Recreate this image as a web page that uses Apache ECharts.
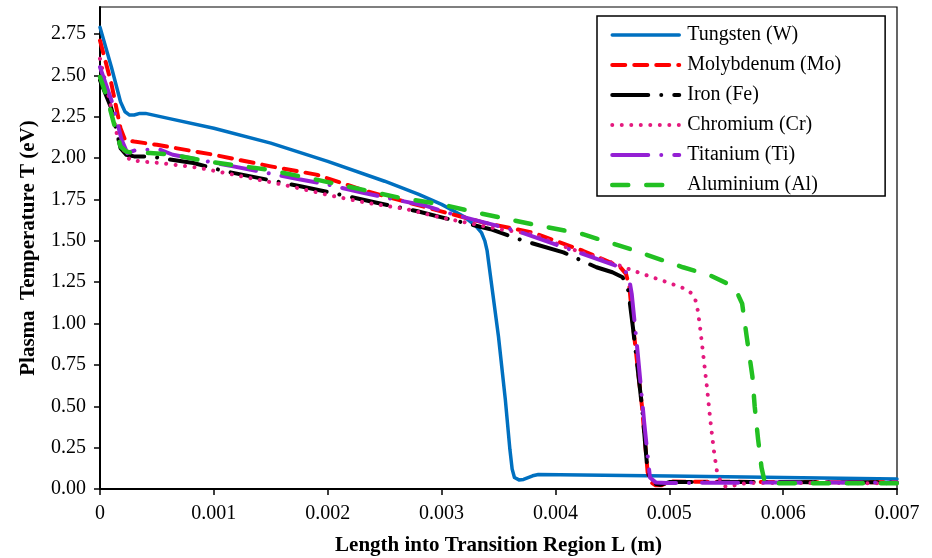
<!DOCTYPE html>
<html>
<head>
<meta charset="utf-8">
<script src="https://cdn.jsdelivr.net/npm/echarts@6/dist/echarts.min.js"></script>
<style>
html,body{margin:0;padding:0;background:#fff;}
#chart{width:932px;height:558px;}
</style>
</head>
<body>
<div id="chart"></div>
<script>
var seriesNames = ["Tungsten (W)", "Molybdenum (Mo)", "Iron (Fe)", "Chromium (Cr)", "Titanium (Ti)", "Aluminium (Al)"];

var tungsten = [[0,2.79],[0.0001,2.55],[0.00018,2.34],[0.00022,2.28],[0.00026,2.26],[0.0003,2.26],[0.00035,2.27],[0.0004,2.27],[0.0006,2.24],[0.001,2.18],[0.0015,2.09],[0.002,1.98],[0.0025,1.86],[0.0028,1.78],[0.003,1.72],[0.0032,1.645],[0.0033,1.59],[0.00335,1.55],[0.00338,1.50],[0.0034,1.44],[0.00345,1.18],[0.0035,0.92],[0.00356,0.54],[0.0036,0.24],[0.00362,0.12],[0.00364,0.07],[0.00368,0.055],[0.00372,0.058],[0.0038,0.08],[0.00385,0.088],[0.005,0.078],[0.006,0.069],[0.007,0.06]];

var molybdenum = [[0,2.71],[0.0001,2.45],[0.00018,2.18],[0.00022,2.11],[0.0003,2.10],[0.0005,2.08],[0.001,2.02],[0.0015,1.95],[0.0019,1.90],[0.00234,1.80],[0.00293,1.69],[0.00337,1.61],[0.0038,1.55],[0.00424,1.44],[0.00448,1.37],[0.00457,1.34],[0.00462,1.30],[0.00465,1.22],[0.00468,1.0],[0.00476,0.5],[0.00481,0.1],[0.00484,0.04],[0.00488,0.022],[0.00493,0.022],[0.005,0.045],[0.006,0.042],[0.007,0.04]];

var iron = [[0,2.47],[0.0001,2.3],[0.00018,2.06],[0.00023,2.02],[0.0003,2.01],[0.00044,2.01],[0.00082,1.97],[0.0011,1.92],[0.00176,1.83],[0.0021,1.78],[0.00243,1.73],[0.00278,1.68],[0.00307,1.63],[0.00343,1.57],[0.00372,1.50],[0.00407,1.43],[0.00436,1.34],[0.0045,1.31],[0.00459,1.28],[0.00464,1.2],[0.00468,0.98],[0.00476,0.5],[0.00481,0.1],[0.00485,0.035],[0.00492,0.025],[0.005,0.042],[0.006,0.042],[0.007,0.04]];

var chromium = [[0,2.6],[0.0001,2.3],[0.00015,2.14],[0.0002,2.06],[0.00026,1.99],[0.00035,1.98],[0.00053,1.97],[0.00088,1.94],[0.00117,1.90],[0.0016,1.84],[0.00205,1.77],[0.00234,1.73],[0.0027,1.69],[0.003,1.64],[0.00322,1.61],[0.00351,1.57],[0.0038,1.54],[0.0041,1.46],[0.00445,1.38],[0.00468,1.32],[0.00498,1.25],[0.00514,1.21],[0.0052,1.18],[0.00523,1.14],[0.00525,1.08],[0.00527,0.98],[0.0053,0.80],[0.00533,0.62],[0.00536,0.42],[0.00539,0.24],[0.00542,0.10],[0.00546,0.03],[0.0055,0.012],[0.00568,0.036],[0.006,0.036],[0.007,0.035]];

var titanium = [[0,2.55],[0.00011,2.33],[0.00019,2.11],[0.00024,2.03],[0.0003,2.045],[0.00035,2.05],[0.00053,2.05],[0.00064,2.02],[0.00117,1.95],[0.00176,1.87],[0.002,1.84],[0.00231,1.79],[0.00287,1.71],[0.0031,1.66],[0.00366,1.56],[0.00395,1.49],[0.00445,1.37],[0.00457,1.34],[0.00462,1.31],[0.00465,1.26],[0.00467,1.18],[0.00472,0.84],[0.00478,0.4],[0.00483,0.07],[0.00488,0.04],[0.00498,0.036],[0.006,0.04],[0.007,0.04]];

var aluminium = [[0,2.49],[0.00006,2.37],[0.00013,2.19],[0.00018,2.07],[0.00023,2.04],[0.00029,2.03],[0.00044,2.03],[0.00064,2.02],[0.00094,1.98],[0.00147,1.93],[0.0019,1.87],[0.00263,1.76],[0.003,1.72],[0.00331,1.67],[0.0038,1.60],[0.00424,1.54],[0.00468,1.445],[0.00512,1.34],[0.00536,1.29],[0.0055,1.245],[0.00557,1.21],[0.0056,1.18],[0.00564,1.12],[0.00568,0.92],[0.00573,0.68],[0.00575,0.50],[0.00578,0.30],[0.00581,0.13],[0.00584,0.036],[0.006,0.035],[0.007,0.035]];

var xTicks = [0,0.001,0.002,0.003,0.004,0.005,0.006,0.007];
var yTicks = [0,0.25,0.5,0.75,1.0,1.25,1.5,1.75,2.0,2.25,2.5,2.75];

var colors = ['#0070C0','#FF0000','#000000','#E4197E','#9420D4','#22C022'];
var dashes = ['solid',[13,9],[36,13,0.01,13],[0.01,9.5],[36,13,0.01,13],[16,18]];
var widths = [3.5,4,4,4,4,4.5];
var datasets = [tungsten, molybdenum, iron, chromium, titanium, aluminium];

var FONT = '"Liberation Serif","Times New Roman",serif';

var chart = echarts.init(document.getElementById('chart'), null, {renderer:'canvas'});
var series = datasets.map(function(d,i){
  return {
    name: seriesNames[i],
    type: 'line',
    data: d,
    symbol: 'none',
    smooth: false,
    color: colors[i],
    lineStyle: {color: colors[i], width: widths[i], type: dashes[i], cap: 'round', join: 'round'},
    z: 2 + i
  };
});

chart.setOption({
  animation: false,
  backgroundColor: '#fff',
  grid: {left: 100, right: 35, top: 7, bottom: 69, show: true, borderColor: '#000', borderWidth: 1.2,
    containLabel: false, outerBoundsMode: 'none'},
  legend: {
    orient: 'vertical',
    left: 597, top: 16,
    padding: [9, 44, 1, 13],
    itemWidth: 67, itemHeight: 14, itemGap: 10,
    backgroundColor: '#fff',
    borderColor: '#000', borderWidth: 1.5,
    itemStyle: {opacity: 0},
    lineStyle: {width: 'inherit'},
    textStyle: {fontFamily: FONT, fontSize: 20, color: '#000', padding: [0,0,0,3]},
    data: seriesNames
  },
  xAxis: {
    type: 'value', min: 0, max: 0.007, interval: 0.001,
    name: 'Length into Transition Region L (m)',
    nameLocation: 'middle', nameGap: 46,
    nameTextStyle: {fontFamily: FONT, fontSize: 21, fontWeight: 'bold', color: '#000'},
    axisLine: {show: true, onZero: false, lineStyle: {color: '#000', width: 2}},
    axisTick: {show: true, length: 6, lineStyle: {color: '#000', width: 1.5}},
    axisLabel: {fontFamily: FONT, fontSize: 20, color: '#000', margin: 15,
      formatter: function(v){ return v === 0 ? '0' : v.toFixed(3); }},
    splitLine: {show: false}
  },
  yAxis: {
    type: 'value', min: 0, max: 2.913,
    name: 'Plasma  Temperature T (eV)',
    nameLocation: 'middle', nameGap: 61,
    nameTextStyle: {fontFamily: FONT, fontSize: 21, fontWeight: 'bold', color: '#000'},
    axisLine: {show: true, lineStyle: {color: '#000', width: 2}},
    axisTick: {show: true, length: 6, customValues: yTicks, lineStyle: {color: '#000', width: 1.5}},
    axisLabel: {fontFamily: FONT, fontSize: 20, color: '#000', margin: 14, customValues: yTicks,
      formatter: function(v){ return v.toFixed(2); }},
    splitLine: {show: false}
  },
  series: series
});
</script>
</body>
</html>
